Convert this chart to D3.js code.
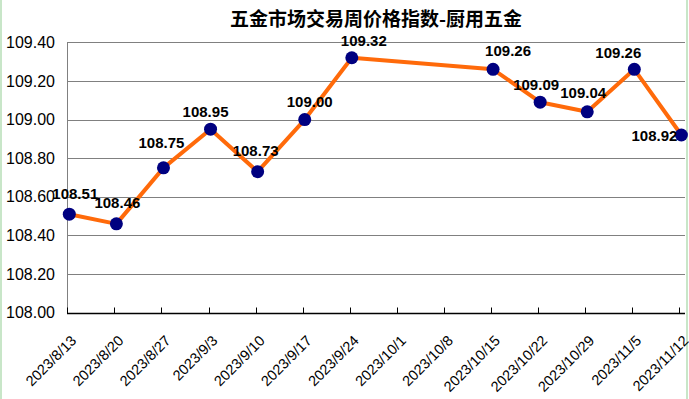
<!DOCTYPE html>
<html>
<head>
<meta charset="utf-8">
<script src="https://cdn.jsdelivr.net/npm/d3@7"></script>
<style>
  body { margin: 0; background: #fff; }
  svg { display: block; }
</style>
</head>
<body>
<svg id="chart" width="689" height="399"></svg>
<script>
// Chart data
const title = "五金市场交易周价格指数-厨用五金";
const weeks = ["2023/8/13", "2023/8/20", "2023/8/27", "2023/9/3", "2023/9/10", "2023/9/17", "2023/9/24",
               "2023/10/1", "2023/10/8", "2023/10/15", "2023/10/22", "2023/10/29", "2023/11/5", "2023/11/12"];
const values = [108.51, 108.46, 108.75, 108.95, 108.73, 109.00, 109.32,
                null, null, 109.26, 109.09, 109.04, 109.26, 108.92];
const yTicks = [108.00, 108.20, 108.40, 108.60, 108.80, 109.00, 109.20, 109.40];

// Label nudges (dx, dy from the marker), the reference places them by hand
const labelNudge = [[6, -15], [1, -16], [-2, -20], [-5, -12], [-2, -16], [5, -13], [12, -12],
                    [0, 0], [0, 0], [15, -13], [-4, -12], [-4, -14], [-16, -11], [-27, 6]];

const svg = d3.select("#chart");
const W = 689, H = 399;

// Outer light green frame
svg.append("rect")
    .attr("x", 1).attr("y", -2).attr("width", W - 3).attr("height", H + 4)
    .attr("fill", "none").attr("stroke", "#c8e6c8").attr("stroke-width", 2);

// Scales
const x = d3.scalePoint().domain(weeks).range([67.3, 679.4]);
const y = d3.scaleLinear().domain([108, 109.4]).range([312.7, 42.3]);
const plotRight = 685;

// Gridlines
svg.append("g")
    .selectAll("line")
    .data(yTicks.slice(1))
    .join("line")
        .attr("x1", 67).attr("x2", plotRight)
        .attr("y1", d => Math.round(y(d)) + 0.5)
        .attr("y2", d => Math.round(y(d)) + 0.5)
        .attr("stroke", "#808080").attr("stroke-width", 1);

// Y axis line
svg.append("line")
    .attr("x1", 67.5).attr("x2", 67.5)
    .attr("y1", Math.round(y(109.4))).attr("y2", Math.round(y(108)) + 0.5)
    .attr("stroke", "#808080");

// Y tick labels
svg.append("g")
    .selectAll("text")
    .data(yTicks)
    .join("text")
        .attr("x", 55)
        .attr("y", d => y(d))
        .attr("dy", "0.35em")
        .attr("text-anchor", "end")
        .style("font-family", "Liberation Sans, Arial, sans-serif")
        .style("font-size", "16px")
        .attr("fill", "#000")
        .text(d => d.toFixed(2));

// X axis line and ticks (ticks point up into the plot)
const axisY = Math.round(y(108)) + 0.5;
svg.append("line")
    .attr("x1", 67).attr("x2", plotRight)
    .attr("y1", axisY).attr("y2", axisY)
    .attr("stroke", "#000").attr("stroke-width", 1.5);
svg.append("g")
    .selectAll("line")
    .data(weeks)
    .join("line")
        .attr("x1", d => Math.round(x(d)) + 0.5)
        .attr("x2", d => Math.round(x(d)) + 0.5)
        .attr("y1", axisY - 6).attr("y2", axisY)
        .attr("stroke", "#000");

// X tick labels, rotated
svg.append("g")
    .selectAll("text")
    .data(weeks)
    .join("text")
        .attr("transform", d => `translate(${x(d) + 10},${axisY + 28}) rotate(-45)`)
        .attr("text-anchor", "end")
        .style("font-family", "Liberation Sans, Arial, sans-serif")
        .style("font-size", "14.5px")
        .attr("fill", "#000")
        .text(d => d);

// Series (the gap weeks are skipped, the line joins across them)
const points = weeks
    .map((w, i) => ({ week: w, value: values[i], nudge: labelNudge[i] }))
    .filter(d => d.value !== null);

const px = d => x(d.week) + 2;

const line = d3.line()
    .x(px)
    .y(d => y(d.value));

svg.append("path")
    .datum(points)
    .attr("d", line)
    .attr("fill", "none")
    .attr("stroke", "#ff6a0a")
    .attr("stroke-width", 4)
    .attr("stroke-linejoin", "round");

svg.append("g")
    .selectAll("circle")
    .data(points)
    .join("circle")
        .attr("cx", px)
        .attr("cy", d => y(d.value))
        .attr("r", 6.5)
        .attr("fill", "#000080");

// Data labels
svg.append("g")
    .selectAll("text")
    .data(points)
    .join("text")
        .attr("x", d => px(d) + d.nudge[0])
        .attr("y", d => y(d.value) + d.nudge[1])
        .attr("text-anchor", "middle")
        .style("font-family", "Liberation Sans, Arial, sans-serif")
        .style("font-size", "15px")
        .style("font-weight", "bold")
        .attr("fill", "#000")
        .text(d => d.value.toFixed(2));

// Title
svg.append("text")
    .attr("x", 376)
    .attr("y", 26)
    .attr("text-anchor", "middle")
    .style("font-family", "Noto Sans CJK SC, sans-serif")
    .style("font-size", "19px")
    .style("font-weight", "bold")
    .attr("fill", "#000")
    .text(title);
</script>
</body>
</html>
